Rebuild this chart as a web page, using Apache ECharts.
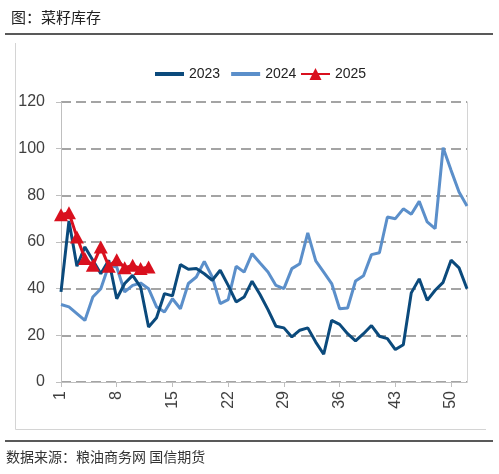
<!DOCTYPE html>
<html>
<head>
<meta charset="utf-8">
<script src="https://cdn.jsdelivr.net/npm/echarts@6/dist/echarts.min.js"></script>
<style>
html,body{margin:0;padding:0;background:#fff;}
#c{width:499px;height:474px;}
</style>
</head>
<body>
<div id="c"></div>
<script>
var weeks = [];
for (var i = 1; i <= 52; i++) weeks.push(String(i));

var s2023 = [38.6, 69, 49.6, 57.9, 52.2, 46.4, 52.2, 35.7, 42.2, 45.7, 40.7, 23.6, 27.5, 37.9, 36.9, 50.3, 48.3, 48.6, 46.4, 43.6, 47.9, 41.4, 34.3, 36.4, 43.2, 37.5, 31, 23.9, 23.2, 19.3, 22.2, 23.2, 17.1, 11.9, 26.4, 24.7, 20.7, 17.6, 20.7, 24.2, 19.6, 18.6, 13.9, 16.0, 38.2, 44.2, 35.0, 39.3, 42.7, 52.2, 48.9, 40.0];
var s2024 = [33.2, 32.2, 29.3, 26.4, 36.4, 40.0, 50.0, 49.3, 38.6, 41.4, 42.4, 40.0, 32.2, 30.0, 35.7, 31.4, 42.2, 45.0, 51.7, 45.0, 33.6, 35.3, 49.6, 47.1, 55.0, 51.0, 47.1, 41.4, 40.0, 48.6, 50.7, 63.9, 51.9, 47.1, 42.2, 31.4, 31.7, 43.3, 45.5, 54.6, 55.4, 70.7, 70.0, 74.2, 71.9, 77.4, 68.6, 65.7, 100.4, 90.7, 81.4, 75.4];
var s2025 = [71.7, 72.5, 62.1, 52.9, 50.0, 57.9, 49.6, 52.4, 49.0, 50.0, 48.6, 49.3];

var chart = echarts.init(document.getElementById('c'), null, {renderer: 'canvas'});
var numFont = 'Liberation Sans';
var legendText = {fontFamily: numFont, fontSize: 14, color: '#222'};
chart.setOption({
  animation: false,
  backgroundColor: '#fff',
  title: {
    text: '图：菜籽库存',
    left: 6, top: 5,
    textStyle: {fontFamily: 'Noto Sans CJK SC', fontSize: 15, fontWeight: 'normal', color: '#222'}
  },
  graphic: [
    {type: 'line', shape: {x1: 5, y1: 34, x2: 493, y2: 34}, style: {stroke: '#222', lineWidth: 1.5}},
    {type: 'line', shape: {x1: 15.5, y1: 43, x2: 15.5, y2: 429.5}, style: {stroke: '#d4d4d4', lineWidth: 1}},
    {type: 'line', shape: {x1: 15.5, y1: 429.5, x2: 486, y2: 429.5}, style: {stroke: '#d4d4d4', lineWidth: 1}},
    {type: 'line', shape: {x1: 5, y1: 441, x2: 493, y2: 441}, style: {stroke: '#222', lineWidth: 1.5}},
    {type: 'text', left: 6, top: 450, style: {text: '数据来源：粮油商务网 国信期货', font: '14px "Noto Sans CJK SC"', fill: '#333'}}
  ],
  legend: [{
    data: [{name: '2023', icon: 'rect'}, {name: '2024', icon: 'rect'}],
    left: 150, top: 62,
    itemWidth: 29, itemHeight: 4, itemGap: 11,
    textStyle: legendText
  }, {
    data: ['2025'],
    left: 295, top: 62,
    itemWidth: 29, itemHeight: 15,
    textStyle: legendText
  }],
  grid: {left: 61, right: 32, top: 102, bottom: 92, containLabel: false},
  xAxis: {
    type: 'category',
    data: weeks,
    boundaryGap: false,
    axisLine: {lineStyle: {color: '#bfbfbf', width: 1}},
    axisTick: {show: true, interval: 6, length: 5, lineStyle: {color: '#bfbfbf'}},
    axisLabel: {interval: 6, rotate: 90, margin: 9, fontFamily: numFont, fontSize: 16, color: '#404040'},
    splitLine: {show: false}
  },
  yAxis: [{
    type: 'value',
    min: 0, max: 120, interval: 20,
    axisLine: {show: true, lineStyle: {color: '#bfbfbf', width: 1}},
    axisTick: {show: true, length: 5, lineStyle: {color: '#bfbfbf'}},
    axisLabel: {margin: 16, fontFamily: numFont, fontSize: 16, color: '#404040'},
    splitLine: {show: true, lineStyle: {color: '#868686', width: 1.5, type: [10, 5]}}
  }, {
    type: 'value',
    min: 0, max: 120, interval: 20,
    position: 'right',
    axisLine: {show: true, lineStyle: {color: '#d4d4d4', width: 1}},
    axisTick: {show: false},
    axisLabel: {show: false},
    splitLine: {show: false}
  }],
  series: [
    {name: '2024', type: 'line', data: s2024, symbol: 'none', lineStyle: {color: '#5b8fca', width: 3}, itemStyle: {color: '#5b8fca'}},
    {name: '2023', type: 'line', data: s2023, symbol: 'none', lineStyle: {color: '#0b4a7c', width: 3}, itemStyle: {color: '#0b4a7c'}},
    {name: '2025', type: 'line', data: s2025, symbol: 'triangle', symbolSize: [14, 13], showSymbol: true, showAllSymbol: true,
     lineStyle: {color: '#d9101e', width: 3}, itemStyle: {color: '#d9101e', borderWidth: 0}}
  ]
});
</script>
</body>
</html>
